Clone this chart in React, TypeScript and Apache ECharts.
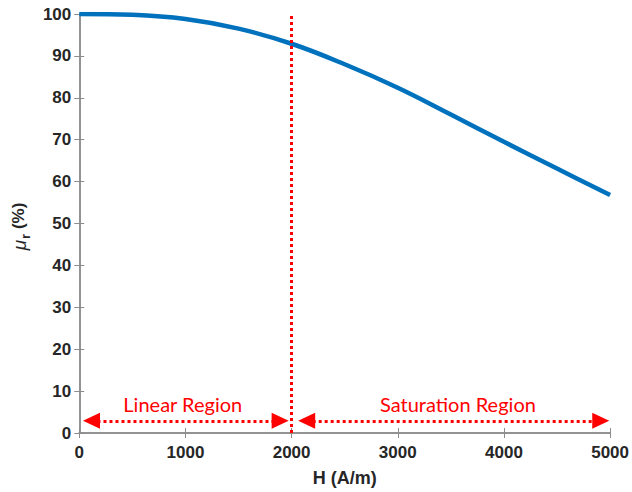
import React, { useEffect, useRef } from "react";
import * as echarts from "echarts";

// Data
const H_VALUES = [0, 500, 1000, 1500, 2000, 2500, 3000, 3500, 4000, 4500, 5000];
const MU_VALUES = [100, 99.8, 98.8, 96.5, 92.9, 88.0, 82.4, 76.0, 69.5, 63.1, 56.8];
const BOUNDARY_H = 2000;
const LINEAR_ARROW = [115, 1892];
const SATURATION_ARROW = [2142, 4912];
const ARROW_LEVEL = 2.9;
const REGION_NAMES = ["Linear Region", "Saturation Region"];
const REGION_LABEL_H = [975, 3567];
const REGION_LABEL_LEVEL = 6.9;
const X_RANGE = [0, 5000];
const Y_RANGE = [0, 100];

const AXIS_COLOR = "#8c8c8c";
const LABEL_COLOR = "#262626";
const RED = "#ff0000";
const FONT = "Liberation Sans, Arial, sans-serif";

export default function App() {
  const ref = useRef<HTMLDivElement>(null);
  useEffect(() => {
    if (!ref.current) return;
    const chart = echarts.init(ref.current, null, { renderer: "svg" });
    const tickStyle = { show: true, inside: true, length: 5, lineStyle: { color: AXIS_COLOR, width: 1 } };
    const lineAxis = { show: true, lineStyle: { color: AXIS_COLOR, width: 1.5 } };
    const labelStyle = {
      color: LABEL_COLOR,
      fontSize: 17,
      fontWeight: "bold" as const,
      fontFamily: FONT,
    };
    const option: any = {
      animation: false,
      backgroundColor: "#ffffff",
      grid: { left: 79, right: 20, top: 14, bottom: 57, containLabel: false },
      xAxis: [
        {
          type: "value",
          min: X_RANGE[0],
          max: X_RANGE[1],
          interval: 1000,
          axisLine: lineAxis,
          axisTick: tickStyle,
          axisLabel: { ...labelStyle, margin: 11, formatter: (v: number) => String(v) },
          splitLine: { show: false },
          name: "H (A/m)",
          nameLocation: "middle",
          nameGap: 36,
          nameTextStyle: { ...labelStyle, fontSize: 18 },
        },
        {
          type: "value",
          position: "top",
          min: X_RANGE[0],
          max: X_RANGE[1],
          interval: 1000,
          axisLine: lineAxis,
          axisTick: tickStyle,
          axisLabel: { show: false },
          splitLine: { show: false },
        },
      ],
      yAxis: [
        {
          type: "value",
          min: Y_RANGE[0],
          max: Y_RANGE[1],
          interval: 10,
          axisLine: lineAxis,
          axisTick: tickStyle,
          axisLabel: { ...labelStyle, margin: 8, formatter: (v: number) => String(v) },
          splitLine: { show: false },
          name: "{mu|μ}{r|r}{p| (%)}",
          nameLocation: "middle",
          nameGap: 47,
          nameTextStyle: {
            ...labelStyle,
            padding: [0, 6, 0, 0],
            rich: {
              mu: { fontSize: 19, fontStyle: "italic", fontWeight: "normal", color: LABEL_COLOR, fontFamily: FONT, verticalAlign: "top", lineHeight: 22 },
              r: { fontSize: 13, fontWeight: "bold", color: LABEL_COLOR, fontFamily: FONT, verticalAlign: "bottom", lineHeight: 13, padding: [11, 0, 0, 1] },
              p: { fontSize: 17, fontWeight: "bold", color: LABEL_COLOR, fontFamily: FONT, verticalAlign: "top", lineHeight: 22 },
            },
          },
        },
        {
          type: "value",
          position: "right",
          min: Y_RANGE[0],
          max: Y_RANGE[1],
          interval: 10,
          axisLine: lineAxis,
          axisTick: tickStyle,
          axisLabel: { show: false },
          splitLine: { show: false },
        },
      ],
      series: [
        {
          type: "line",
          data: H_VALUES.map((h, i) => [h, MU_VALUES[i]]),
          smooth: 0.4,
          showSymbol: false,
          lineStyle: { color: "#0072BD", width: 4.5 },
          z: 3,
        },
        {
          type: "line",
          data: [],
          markLine: {
            silent: true,
            symbol: "none",
            label: { show: false },
            lineStyle: { color: RED, width: 3, type: [3, 3] },
            data: [[{ coord: [BOUNDARY_H, Y_RANGE[0]] }, { coord: [BOUNDARY_H, Y_RANGE[1]] }]],
          },
          z: 4,
        },
        {
          type: "line",
          data: [],
          markLine: {
            silent: true,
            symbol: ["triangle", "triangle"],
            symbolSize: [16, 17],
            label: { show: false },
            lineStyle: { color: RED, width: 3, type: [3, 3], opacity: 1 },
            itemStyle: { color: RED },
            data: [
              [{ coord: [LINEAR_ARROW[0], ARROW_LEVEL] }, { coord: [LINEAR_ARROW[1], ARROW_LEVEL] }],
              [{ coord: [SATURATION_ARROW[0], ARROW_LEVEL] }, { coord: [SATURATION_ARROW[1], ARROW_LEVEL] }],
            ],
          },
          markPoint: {
            silent: true,
            symbol: "circle",
            symbolSize: 0,
            label: {
              show: true,
              position: "inside",
              formatter: "{b}",
              color: RED,
              fontSize: 20,
              fontFamily: "Lato, sans-serif",
            },
            data: REGION_NAMES.map((n, i) => ({ name: n, coord: [REGION_LABEL_H[i], REGION_LABEL_LEVEL] })),
          },
          z: 4,
        },
      ],
    };
    chart.setOption(option);
    return () => chart.dispose();
  }, []);
  return <div ref={ref} style={{ position: "fixed", left: 0, top: 0, width: 632, height: 492 }} />;
}
